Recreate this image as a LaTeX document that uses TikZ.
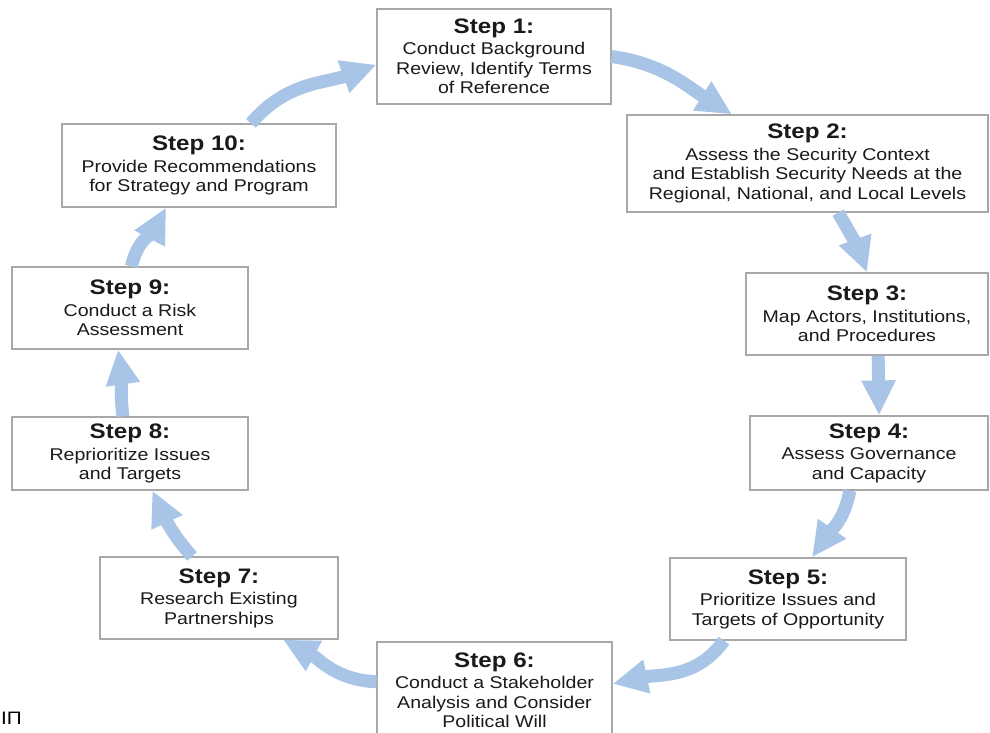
\documentclass[tikz,border=0pt]{standalone}
\usepackage{fontspec}
\setmainfont{Liberation Sans}[FakeStretch=1.15]
\usetikzlibrary{arrows.meta}
\definecolor{cycleblue}{HTML}{A8C4E6}
\definecolor{boxgray}{HTML}{A8A8A8}
\definecolor{textgray}{HTML}{1A1A1A}
\newcommand{\stephead}[1]{{\bfseries\fontsize{21}{22}\selectfont #1}\\[2pt]}

\begin{document}
\begin{tikzpicture}[x=1pt,y=1pt,
		stepbox/.style={draw=boxgray,line width=1.2pt,fill=white,align=center,text=textgray,
			font=\fontsize{17}{19.5}\selectfont,inner sep=0pt},
		cyclearrow/.style={draw=cycleblue,line width=13pt,-{Triangle[length=35pt,width=32pt]}}]
		\useasboundingbox (0,0) rectangle (990,-733);
		\node[stepbox,minimum width=234pt,minimum height=95pt] (s1) at (494,-56.5) {\stephead{Step 1:}Conduct Background\\Review, Identify Terms\\of Reference};
		\node[stepbox,minimum width=361pt,minimum height=97pt] (s2) at (807.5,-163.5) {\stephead{Step 2:}Assess the Security Context\\and Establish Security Needs at the\\Regional, National, and Local Levels};
		\node[stepbox,minimum width=242pt,minimum height=82pt] (s3) at (867,-314) {\stephead{Step 3:}Map Actors, Institutions,\\and Procedures};
		\node[stepbox,minimum width=238pt,minimum height=74pt] (s4) at (869,-453) {\stephead{Step 4:}Assess Governance\\and Capacity};
		\node[stepbox,minimum width=236pt,minimum height=82pt] (s5) at (788,-599) {\stephead{Step 5:}Prioritize Issues and\\Targets of Opportunity};
		\node[stepbox,minimum width=235pt,minimum height=96pt] (s6) at (494.5,-690) {\stephead{Step 6:}Conduct a Stakeholder\\Analysis and Consider\\Political Will};
		\node[stepbox,minimum width=238pt,minimum height=82pt] (s7) at (219,-598) {\stephead{Step 7:}Research Existing\\Partnerships};
		\node[stepbox,minimum width=236pt,minimum height=73pt] (s8) at (130,-453.5) {\stephead{Step 8:}Reprioritize Issues\\and Targets};
		\node[stepbox,minimum width=236pt,minimum height=82pt] (s9) at (130,-308) {\stephead{Step 9:}Conduct a Risk\\Assessment};
		\node[stepbox,minimum width=274pt,minimum height=83pt] (s10) at (199,-165.5) {\stephead{Step 10:}Provide Recommendations\\for Strategy and Program};
		\node[text=black,font=\fontsize{18}{18}\selectfont,inner sep=0pt,anchor=west] (frag) at (1,-718) {IП};
		% cycle
		\draw[cyclearrow] (s1.east) to[out=-8,in=148] (s2.147);
		\draw[cyclearrow] (s2.-58) to[out=-60,in=110] (s3.north);
		\draw[cyclearrow] (s3.-75) -- (s4.75);
		\draw[cyclearrow] (s4.-117) to[out=-100,in=55] (s5.60);
		\draw[cyclearrow] (s5.-147) to[out=-125,in=12] (s6.3);
		\draw[cyclearrow] (s6.176) to[out=178,in=-28] (s7.-33);
		\draw[cyclearrow] (s7.123) to[out=132,in=-65] (s8.-59);
		\draw[cyclearrow] (s8.101) to[out=96,in=-82] (s9.-106);
		\draw[cyclearrow] (s9.88) to[out=78,in=-118] (s10.-128);
		\draw[cyclearrow] (s10.39) to[out=50,in=200] (s1.184);
\end{tikzpicture}
\end{document}
